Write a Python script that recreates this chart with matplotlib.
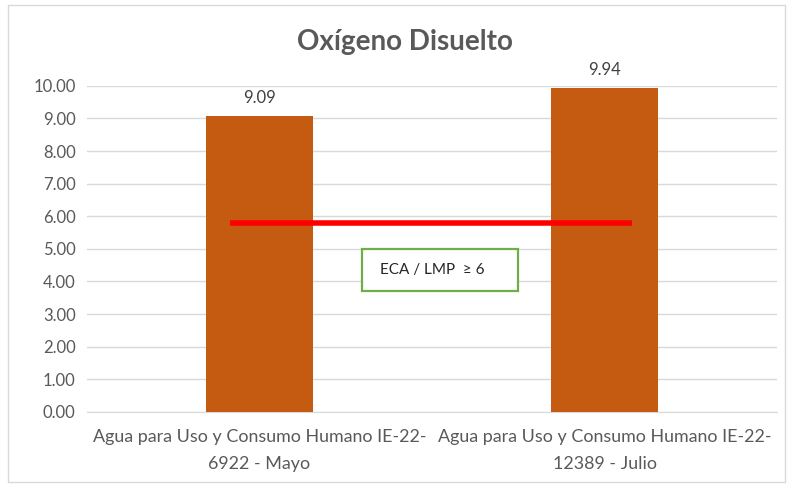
import numpy as np
import matplotlib.pyplot as plt
from matplotlib.patches import Rectangle

plt.rcParams['font.family'] = ['Lato', 'DejaVu Sans']

# --- datos ---
categorias = ["Agua para Uso y Consumo Humano IE-22-\n6922 - Mayo",
              "Agua para Uso y Consumo Humano IE-22-\n12389 - Julio"]
valores = [9.09, 9.94]
limite = 5.8          # linea roja dibujada en el grafico
texto_limite = "ECA / LMP  \u2265 6"
yticks = np.arange(0, 11, 1)

gris = "#595959"

fig = plt.figure(figsize=(7.89, 4.88), dpi=100)
ax = fig.add_axes([0.110, 0.156, 0.875, 0.668])

x = np.arange(len(categorias))
barras = ax.bar(x, valores, width=0.31, color="#C55A11", zorder=3)

for xi, v in zip(x, valores):
    ax.text(xi, v + 0.3, f"{v:.2f}", ha="center", va="bottom",
            fontsize=12, color="#404040", clip_on=False)

# linea del limite
ax.plot([-0.085, 1.08], [limite, limite], color="#FF0000", lw=4,
        solid_capstyle="butt", zorder=4)

# cuadro de texto
ax.add_patch(Rectangle((0.297, 3.71), 0.452, 1.29, fc="white", ec="#70AD47",
                       lw=1.6, zorder=5))
ax.text(0.348, 4.36, texto_limite, ha="left", va="center", fontsize=11,
        color="#262626", zorder=6)

ax.set_xlim(-0.5, 1.5)
ax.set_ylim(0, 10)
ax.set_yticks(yticks)
ax.set_yticklabels([f"{t:.2f}" for t in yticks], fontsize=12, color=gris)
ax.set_xticks(x)
ax.set_xticklabels(categorias, fontsize=12.9, color=gris, linespacing=1.85)
ax.tick_params(axis="both", length=0, pad=8)
ax.tick_params(axis="x", pad=12)
ax.grid(axis="y", color="#D9D9D9", lw=1, zorder=0)
for s in ["top", "right", "left"]:
    ax.spines[s].set_visible(False)
ax.spines["bottom"].set_color("#D9D9D9")

fig.text(0.513, 0.913, "Oxígeno Disuelto", ha="center", va="center",
         fontsize=20, fontweight="bold", color=gris)

# borde del area del grafico
fig.patches.append(Rectangle((0.010, 0.012), 0.985, 0.978, transform=fig.transFigure,
                             fill=False, ec="#D9D9D9", lw=1))

plt.savefig("out.png", dpi=100)
